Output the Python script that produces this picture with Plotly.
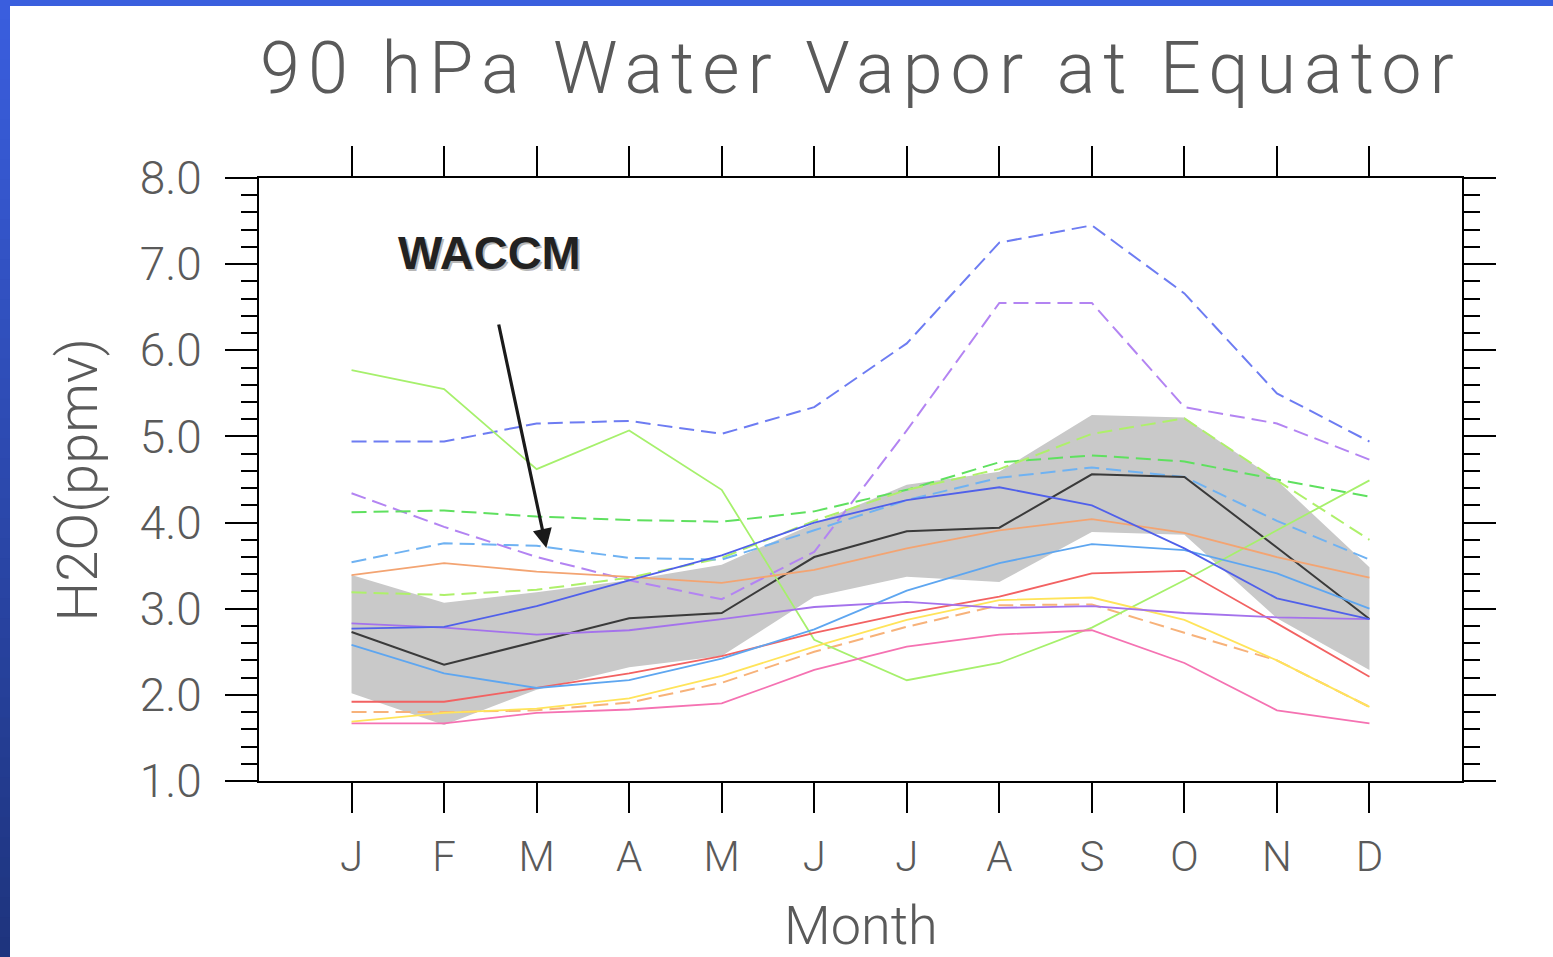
import plotly.graph_objects as go

# Monthly 90 hPa water vapour at the equator (ppmv)
month_num = list(range(1, 13))
month_labels = ["J", "F", "M", "A", "M", "J", "J", "A", "S", "O", "N", "D"]
y_ticks = [1.0, 2.0, 3.0, 4.0, 5.0, 6.0, 7.0, 8.0]

obs_upper = [3.39, 3.07, 3.19, 3.33, 3.51, 3.99, 4.44, 4.59, 5.25, 5.22, 4.49, 3.48]
obs_lower = [2.02, 1.65, 2.06, 2.32, 2.45, 3.14, 3.37, 3.31, 3.89, 3.86, 2.89, 2.29]

waccm = [2.73, 2.35, 2.62, 2.89, 2.95, 3.60, 3.90, 3.94, 4.56, 4.53, 3.71, 2.88]

blue_dash = [4.94, 4.94, 5.15, 5.18, 5.03, 5.34, 6.08, 7.25, 7.45, 6.66, 5.50, 4.94]
purple_dash = [4.34, 3.95, 3.60, 3.33, 3.11, 3.66, 5.07, 6.55, 6.55, 5.34, 5.15, 4.73]
green_dash = [4.12, 4.14, 4.07, 4.03, 4.01, 4.13, 4.38, 4.70, 4.78, 4.71, 4.50, 4.30]
lime_dash = [3.19, 3.16, 3.22, 3.36, 3.59, 4.02, 4.38, 4.62, 5.03, 5.21, 4.49, 3.80]
sky_dash = [3.54, 3.76, 3.73, 3.59, 3.57, 3.91, 4.26, 4.52, 4.64, 4.53, 4.02, 3.57]
orange_dash = [1.80, 1.80, 1.82, 1.91, 2.14, 2.50, 2.79, 3.04, 3.05, 2.72, 2.40, 1.86]

blue_solid = [2.77, 2.79, 3.03, 3.33, 3.62, 4.00, 4.26, 4.41, 4.20, 3.70, 3.12, 2.88]
purple_solid = [2.83, 2.78, 2.70, 2.75, 2.88, 3.02, 3.08, 3.01, 3.03, 2.95, 2.90, 2.88]
sky_solid = [2.58, 2.25, 2.08, 2.17, 2.42, 2.76, 3.21, 3.53, 3.75, 3.68, 3.41, 3.00]
orange_solid = [3.39, 3.53, 3.43, 3.37, 3.30, 3.45, 3.70, 3.91, 4.04, 3.88, 3.60, 3.36]
red_solid = [1.92, 1.92, 2.08, 2.25, 2.45, 2.72, 2.95, 3.14, 3.41, 3.44, 2.83, 2.21]
pink_solid = [1.67, 1.67, 1.79, 1.83, 1.90, 2.29, 2.56, 2.70, 2.75, 2.37, 1.82, 1.67]
yellow_solid = [1.69, 1.79, 1.84, 1.96, 2.22, 2.56, 2.87, 3.10, 3.13, 2.87, 2.40, 1.86]
lime_solid = [5.77, 5.55, 4.62, 5.07, 4.38, 2.64, 2.17, 2.37, 2.78, 3.33, 3.91, 4.49]

DASH = "15px,7px"
series = [
    (blue_dash, "#6d7cf2", DASH),
    (purple_dash, "#b384f2", DASH),
    (green_dash, "#5fe05f", DASH),
    (lime_dash, "#aef06a", DASH),
    (sky_dash, "#6fb2f2", DASH),
    (orange_dash, "#f7b27a", DASH),
    (lime_solid, "#a6f06c", "solid"),
    (pink_solid, "#f572b2", "solid"),
    (yellow_solid, "#ffe45a", "solid"),
    (red_solid, "#f26262", "solid"),
    (sky_solid, "#5ea6f0", "solid"),
    (orange_solid, "#f3a472", "solid"),
    (purple_solid, "#a472ec", "solid"),
    (blue_solid, "#5060ea", "solid"),
]

fig = go.Figure()

# observational range as a shaded band
fig.add_trace(go.Scatter(x=month_num, y=obs_lower, mode="lines",
                         line=dict(width=0, color="#c9c9c9"), hoverinfo="skip"))
fig.add_trace(go.Scatter(x=month_num, y=obs_upper, mode="lines", fill="tonexty",
                         fillcolor="#c9c9c9", line=dict(width=0, color="#c9c9c9"),
                         hoverinfo="skip"))

for vals, col, dash in series[:6]:
    fig.add_trace(go.Scatter(x=month_num, y=vals, mode="lines",
                             line=dict(color=col, width=2, dash=dash)))
fig.add_trace(go.Scatter(x=month_num, y=waccm, mode="lines",
                         line=dict(color="#3a3a3a", width=2)))
for vals, col, dash in series[6:]:
    fig.add_trace(go.Scatter(x=month_num, y=vals, mode="lines",
                             line=dict(color=col, width=1.8, dash=dash)))

LABEL_FONT = dict(family="Roboto, Lato, sans-serif", color="#5a5a5a", weight=300)

fig.update_xaxes(
    range=[0, 13], tickmode="array", tickvals=month_num, ticktext=month_labels,
    showline=True, mirror="ticks", linecolor="black", linewidth=2,
    ticks="outside", ticklen=30, tickwidth=2, tickcolor="black",
    ticklabelstandoff=8, tickfont=dict(size=42, **LABEL_FONT),
    showgrid=False, zeroline=False,
)
fig.update_yaxes(
    range=[1, 8], tickmode="array", tickvals=y_ticks,
    ticktext=[f"{v:.1f}" for v in y_ticks],
    showline=True, mirror="ticks", linecolor="black", linewidth=2,
    ticks="outside", ticklen=32, tickwidth=2, tickcolor="black",
    minor=dict(dtick=0.2, ticks="outside", ticklen=16, tickwidth=2, tickcolor="black"),
    ticklabelstandoff=14, tickfont=dict(size=46, **LABEL_FONT),
    showgrid=False, zeroline=False,
)

WACCM_FONT = "Liberation Sans Narrow, Liberation Sans, Arial"
annotations = [
    dict(text='<span style="letter-spacing:8px">90 hPa Water Vapor at Equator</span>',
         xref="paper", yref="paper",
         x=0.5, y=1.182, showarrow=False, xanchor="center", yanchor="middle",
         font=dict(size=72, **LABEL_FONT)),
    dict(text="H2O(ppmv)", xref="paper", yref="paper", x=-0.1505, y=0.5,
         textangle=-90, showarrow=False, xanchor="center", yanchor="middle",
         font=dict(size=56, **LABEL_FONT)),
    dict(text="Month", xref="paper", yref="paper", x=0.5, y=-0.239,
         showarrow=False, xanchor="center", yanchor="middle",
         font=dict(size=54, **LABEL_FONT)),
    # model label with soft drop shadow
    dict(text="<b>WACCM</b>", xref="x", yref="y", x=2.49, y=7.13,
         xshift=2, yshift=-2, showarrow=False,
         font=dict(family=WACCM_FONT, size=47, color="rgba(0,0,0,0.28)")),
    dict(text="<b>WACCM</b>", xref="x", yref="y", x=2.49, y=7.13, showarrow=False,
         font=dict(family=WACCM_FONT, size=47, color="#222222")),
    dict(text="", xref="x", yref="y", axref="x", ayref="y",
         x=3.105, y=3.705, ax=2.587, ay=6.317,
         showarrow=True, arrowhead=2, arrowsize=1.2, arrowwidth=3.2,
         arrowcolor="#1a1a1a", standoff=0, startstandoff=0),
]

# blue slide frame: thin strip along the top and a darkening strip down the left
shapes = [dict(type="rect", xref="paper", yref="paper", layer="above",
               xsizemode="pixel", ysizemode="pixel", xanchor=0, yanchor=1,
               x0=-259, x1=1553 - 259, y0=178 - 6, y1=178,
               fillcolor="#3a5fde", line=dict(width=0))]
n_steps = 48
top_rgb, bot_rgb = (58, 94, 222), (30, 52, 126)
for i in range(n_steps):
    t = i / (n_steps - 1)
    r, g, b = (round(a + (c - a) * t) for a, c in zip(top_rgb, bot_rgb))
    p0 = 957 * i / n_steps
    p1 = 957 * (i + 1) / n_steps + 1
    shapes.append(dict(type="rect", xref="paper", yref="paper", layer="above",
                       xsizemode="pixel", ysizemode="pixel", xanchor=0, yanchor=1,
                       x0=-259, x1=-249, y0=178 - p1, y1=178 - p0,
                       fillcolor=f"rgb({r},{g},{b})", line=dict(width=0)))

fig.update_layout(
    width=1553, height=957,
    margin=dict(l=259, r=91, t=178, b=176, autoexpand=False),
    paper_bgcolor="white", plot_bgcolor="white",
    showlegend=False, annotations=annotations, shapes=shapes,
)

fig.write_html("out.html", config={"displayModeBar": False})
